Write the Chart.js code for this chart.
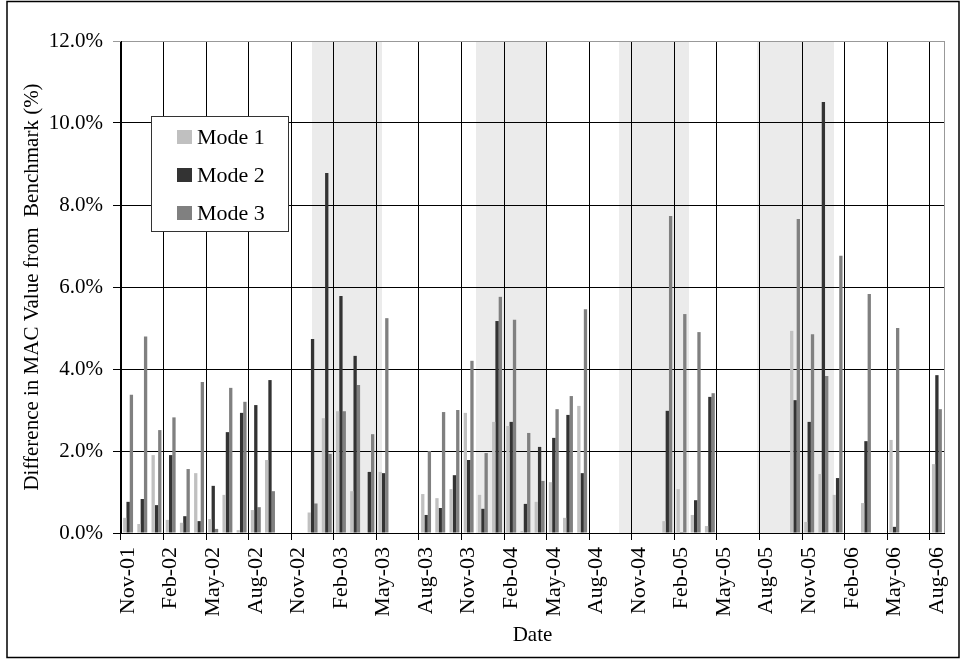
<!DOCTYPE html>
<html>
<head>
<meta charset="utf-8">
<script src="https://cdn.jsdelivr.net/npm/chart.js@4.4.1/dist/chart.umd.min.js"></script>
<style>
  html, body { margin: 0; padding: 0; background: #fff; }
  #wrap { width: 962px; height: 660px; position: relative; }
</style>
</head>
<body>
<div id="wrap"><canvas id="chart" width="962" height="660"></canvas></div>
<script>
// Monthly categories, Nov 2001 – Aug 2006
const months = [
  'Nov-01','Dec-01','Jan-02','Feb-02','Mar-02','Apr-02','May-02','Jun-02','Jul-02','Aug-02','Sep-02','Oct-02',
  'Nov-02','Dec-02','Jan-03','Feb-03','Mar-03','Apr-03','May-03','Jun-03','Jul-03','Aug-03','Sep-03','Oct-03',
  'Nov-03','Dec-03','Jan-04','Feb-04','Mar-04','Apr-04','May-04','Jun-04','Jul-04','Aug-04','Sep-04','Oct-04',
  'Nov-04','Dec-04','Jan-05','Feb-05','Mar-05','Apr-05','May-05','Jun-05','Jul-05','Aug-05','Sep-05','Oct-05',
  'Nov-05','Dec-05','Jan-06','Feb-06','Mar-06','Apr-06','May-06','Jun-06','Jul-06','Aug-06'
];

// Months that carry an axis label
const tickMonths = [
  'Nov-01','Feb-02','May-02','Aug-02','Nov-02','Feb-03','May-03','Aug-03','Nov-03','Feb-04',
  'May-04','Aug-04','Nov-04','Feb-05','May-05','Aug-05','Nov-05','Feb-06','May-06','Aug-06'
];

// Difference in MAC value from benchmark, percent (null = no observation)
const mode1 = [
  0.37, 0.22, 1.90, 0.32, 0.25, 1.46, 0.34, 0.93, 0.07, 0.56, 1.78, null,
  null, 0.50, 2.80, 2.97, 1.02, 0, 1.49, null, null, 0.95, 0.85, 1.07,
  2.93, 0.93, 2.71, 2.61, 0.05, 0.76, 1.24, 0.37, 3.10, null, null, null,
  null, null, 0.29, 1.07, 0.44, 0.17, null, null, null, null, null, 4.93,
  0.27, 1.44, 0.93, null, 0.73, null, 2.27, null, null, 1.68
];
const mode2 = [
  0.76, 0.83, 0.68, 1.90, 0.41, 0.29, 1.15, 2.46, 2.93, 3.12, 3.73, null,
  null, 4.73, 8.78, 5.78, 4.32, 1.49, 1.46, null, null, 0.44, 0.61, 1.41,
  1.78, 0.59, 5.17, 2.71, 0.71, 2.10, 2.32, 2.88, 1.46, null, null, null,
  null, null, 2.98, 0.02, 0.80, 3.32, null, null, null, null, null, 3.24,
  2.71, 10.51, 1.34, null, 2.24, null, 0.15, null, null, 3.85
];
const mode3 = [
  3.37, 4.79, 2.51, 2.82, 1.56, 3.68, 0.10, 3.54, 3.20, 0.63, 1.02, null,
  null, 0.72, 1.93, 2.97, 3.61, 2.41, 5.24, null, null, 2.00, 2.95, 3.00,
  4.20, 1.95, 5.76, 5.20, 2.44, 1.27, 3.02, 3.34, 5.46, null, null, null,
  null, null, 7.73, 5.34, 4.90, 3.41, null, null, null, null, null, 7.66,
  4.85, 3.83, 6.76, null, 5.83, null, 5.00, null, null, 3.02
];

// Highlighted periods, in months counted from the start of Nov-01
const shadedPeriods = [
  [13.46, 18.39],
  [25.02, 30.00],
  [35.10, 40.03],
  [44.84, 50.25]
];

const SERIF = '"Liberation Serif", "Times New Roman", Times, serif';
Chart.defaults.font.family = SERIF;
Chart.defaults.font.size = 21;
Chart.defaults.color = '#000';

// Grey bands behind the grid for the highlighted periods
const periodBands = {
  id: 'periodBands',
  beforeDraw(chart) {
    const { ctx, chartArea, scales: { x } } = chart;
    ctx.save();
    ctx.fillStyle = '#ebebeb';
    shadedPeriods.forEach(([a, b]) => {
      const x0 = x.getPixelForValue(a - 0.5);
      const x1 = x.getPixelForValue(b - 0.5);
      ctx.fillRect(x0, chartArea.top + 1, x1 - x0, chartArea.bottom - chartArea.top - 1);
    });
    ctx.restore();
  }
};

// Boxed legend sitting inside the plot
const boxedLegend = {
  id: 'boxedLegend',
  afterDatasetsDraw(chart) {
    const { ctx, chartArea } = chart;
    const left = chartArea.left + 30, top = chartArea.top + 75;
    const w = 137, h = 115;
    ctx.save();
    ctx.fillStyle = '#fff';
    ctx.fillRect(left, top, w, h);
    ctx.strokeStyle = '#333';
    ctx.lineWidth = 1;
    ctx.strokeRect(left + 0.5, top + 0.5, w, h);
    ctx.font = '22px ' + SERIF;
    ctx.textBaseline = 'middle';
    ctx.textAlign = 'left';
    chart.data.datasets.forEach((ds, i) => {
      const cy = top + 21 + i * 38;
      ctx.fillStyle = ds.backgroundColor;
      ctx.fillRect(left + 26, cy - 7, 15, 14);
      ctx.fillStyle = '#000';
      ctx.fillText(ds.label, left + 46, cy + 1);
    });
    ctx.restore();
  }
};

// Outer frame around the whole figure
const outerFrame = {
  id: 'outerFrame',
  afterDraw(chart) {
    const { ctx } = chart;
    ctx.save();
    ctx.strokeStyle = '#000';
    ctx.lineWidth = 1.5;
    ctx.strokeRect(7, 1.5, 952, 656);
    ctx.restore();
  }
};

new Chart(document.getElementById('chart'), {
  type: 'bar',
  data: {
    labels: months,
    datasets: [
      { label: 'Mode 1', data: mode1, backgroundColor: '#c0c0c0' },
      { label: 'Mode 2', data: mode2, backgroundColor: '#333333' },
      { label: 'Mode 3', data: mode3, backgroundColor: '#808080' }
    ]
  },
  options: {
    responsive: false,
    animation: false,
    layout: { padding: { top: 41, right: 18, left: 0, bottom: 0 } },
    datasets: { bar: { categoryPercentage: 0.7, barPercentage: 1.0, borderWidth: 0 } },
    plugins: { legend: { display: false }, tooltip: { enabled: false } },
    scales: {
      x: {
        offset: true,
        grid: {
          offset: true,
          lineWidth: 1,
          tickLength: 7,
          color: c => c.index === undefined ? '#999' : (c.index % 3 === 0 ? '#000' : 'rgba(0,0,0,0)'),
          tickColor: c => (c.index !== undefined && c.index % 3 === 0) ? '#000' : 'rgba(0,0,0,0)'
        },
        border: { color: '#000', width: 1 },
        ticks: {
          autoSkip: false,
          maxRotation: 90,
          minRotation: 90,
          padding: 7,
          font: { size: 22 },
          callback: (v, i) => tickMonths.includes(months[i]) ? months[i] : ''
        },
        title: { display: true, text: 'Date', padding: { top: 0, bottom: 12 } },
        afterFit(s) { s.height = 127; s.paddingLeft = 0; s.paddingRight = 0; }
      },
      y: {
        min: 0,
        max: 12,
        ticks: { stepSize: 2, padding: 10, callback: v => v.toFixed(1) + '%' },
        grid: {
          tickLength: 8,
          color: c => (c.tick && c.tick.value === 12) ? '#999' : '#000'
        },
        border: { color: '#000', width: 1 },
        title: {
          display: true,
          text: 'Difference in MAC Value from  Benchmark (%)',
          padding: { top: 20, bottom: 0 }
        },
        afterFit(s) { s.width = 121; s.paddingTop = 0; s.paddingBottom = 0; }
      }
    }
  },
  plugins: [periodBands, boxedLegend, outerFrame]
});
</script>
</body>
</html>
